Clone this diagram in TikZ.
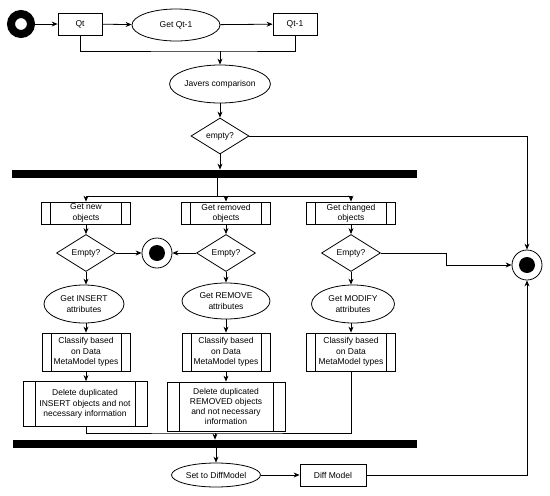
\documentclass[tikz,border=0pt]{standalone}
\usepackage{fontspec}
\setmainfont{Liberation Sans}
\usetikzlibrary{arrows.meta,shapes.geometric}
\begin{document}
\begin{tikzpicture}[x=1pt,y=-1pt,
  every node/.style={font=\fontsize{8.5}{10.3}\selectfont, align=center, inner sep=0pt, line width=0.8pt},
  line/.style={draw, line width=0.8pt},
  arr/.style={line, -{Stealth[length=6pt,width=5pt]}},
  box/.style={rectangle, draw, minimum width=#1},
  procbox/.style={rectangle, draw, path picture={
    \draw[line width=0.8pt] ([xshift=#1]path picture bounding box.north west) -- ([xshift=#1]path picture bounding box.south west);
    \draw[line width=0.8pt] ([xshift=-#1]path picture bounding box.north east) -- ([xshift=-#1]path picture bounding box.south east);}},
  oval/.style={ellipse, draw},
  dec/.style={diamond, draw, minimum width=59pt, minimum height=37pt},
  startc/.style={circle, draw, line width=8pt, minimum size=20pt},
  endc/.style={circle, draw, minimum size=30pt, path picture={\fill (path picture bounding box.center) circle (8pt);}},
  bar/.style={rectangle, fill=black, minimum height=8pt},
]
\useasboundingbox (0,0) rectangle (550,496);

% top row
\node[startc] (start) at (21,24) {};
\node[rectangle, draw, minimum width=44pt, minimum height=22pt] (qt) at (80,24) {Qt};
\node[oval, minimum width=88pt, minimum height=32pt] (getq) at (176,25) {Get Qt-1};
\node[rectangle, draw, minimum width=44pt, minimum height=22pt] (qt1) at (295,24) {Qt-1};
\draw[arr] (start) -- (qt);
\draw[arr] (qt) -- (getq);
\draw[arr] (getq) -- (qt1);

\node[oval, minimum width=89pt, minimum height=38pt] (javers) at (220,84) {Javers comparison};
\coordinate (j1) at (220,51);
\draw[line] (qt.south) |- (j1) -| (qt1.south);
\draw[arr] (j1) -- (javers.north);

\node[dec, minimum width=58pt, minimum height=36pt] (empty) at (220,136) {empty?};
\draw[arr] (javers) -- (empty);

\node[bar, minimum width=405pt] (bar1) at (214.5,174) {};
\draw[arr] (empty.south) -- (empty.south |- bar1.north);

% columns
\node[procbox=9pt, minimum width=89pt, minimum height=22pt] (newobj) at (86,213) {Get new\\objects};
\node[procbox=9pt, minimum width=89pt, minimum height=22pt] (remobj) at (226,213) {Get removed\\objects};
\node[procbox=9pt, minimum width=89pt, minimum height=22pt] (chgobj) at (351,213) {Get changed\\objects};

\coordinate (f0) at (217,196);
\draw[line] (f0 |- bar1.south) -- (f0);
\draw[arr] (f0) -| (newobj.north);
\draw[arr] (f0) -| (chgobj.north);
\draw[arr] (f0) -| (remobj.north);

\node[dec] (d1) at (86,253) {Empty?};
\node[dec] (d2) at (226,253) {Empty?};
\node[dec] (d3) at (351,253) {Empty?};
\node[endc] (end1) at (157,253) {};
\node[endc] (end2) at (527,265) {};

\draw[arr] (newobj) -- (d1);
\draw[arr] (remobj) -- (d2);
\draw[arr] (chgobj) -- (d3);
\draw[arr] (d1) -- (end1);
\draw[arr] (d2) -- (end1);
\coordinate (k1) at (446,253);
\draw[arr] (d3.east) -- (k1) |- (end2.west);
\draw[arr] (empty.east) -| (end2.north);

\node[oval, minimum width=80pt, minimum height=38pt] (ins) at (84,304) {Get INSERT\\attributes};
\node[oval, minimum width=88pt, minimum height=36pt] (rem) at (226,301) {Get REMOVE\\attributes};
\node[oval, minimum width=83pt, minimum height=38pt] (mod) at (353,304) {Get MODIFY\\attributes};
\draw[arr] (d1.south) -- (d1.south |- ins.north);
\draw[arr] (d2) -- (rem);
\draw[arr] (d3.south) -- (d3.south |- mod.north);

\node[procbox=9pt, minimum width=88pt, minimum height=38pt] (cls1) at (86,352) {Classify based\\on Data\\MetaModel types};
\node[procbox=9pt, minimum width=88pt, minimum height=38pt] (cls2) at (226,352) {Classify based\\on Data\\MetaModel types};
\node[procbox=9pt, minimum width=89pt, minimum height=38pt] (cls3) at (351,352) {Classify based\\on Data\\MetaModel types};
\draw[arr] (ins.south -| cls1.north) -- (cls1.north);
\draw[arr] (rem) -- (cls2);
\draw[arr] (mod.south -| cls3.north) -- (cls3.north);

\node[procbox=12pt, minimum width=124pt, minimum height=45pt] (del1) at (85,404) {Delete duplicated\\INSERT objects and not\\necessary information};
\node[procbox=12pt, minimum width=118pt, minimum height=49pt] (del2) at (226,406.5) {Delete duplicated\\REMOVED objects\\and not necessary\\information};
\draw[arr] (cls1.south) -- (cls1.south |- del1.north);
\draw[arr] (cls2) -- (del2);

\node[bar, minimum width=404pt] (bar2) at (215,444) {};
\coordinate (jn) at (215,433);
\draw[line] (del1.south -| cls1.south) |- (jn) -| (cls3.south);
\draw[arr] (jn) -- (jn |- bar2.north);

\node[oval, minimum width=89pt, minimum height=24pt] (set) at (216,475) {Set to DiffModel};
\node[rectangle, draw, minimum width=66pt, minimum height=22pt] (diff) at (333,475) {Diff Model};
\draw[arr] (set.north |- bar2.south) -- (set.north);
\draw[arr] (set) -- (diff);
\draw[arr] (diff.east) -| (end2.south);
\end{tikzpicture}
\end{document}
